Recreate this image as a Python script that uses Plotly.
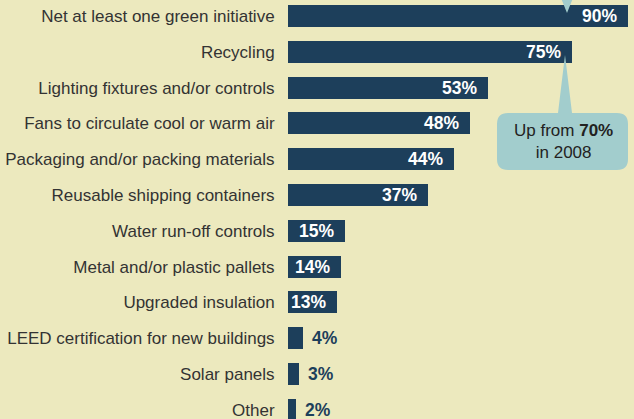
import plotly.graph_objects as go

categories = [
    "Net at least one green initiative",
    "Recycling",
    "Lighting fixtures and/or controls",
    "Fans to circulate cool or warm air",
    "Packaging and/or packing materials",
    "Reusable shipping containers",
    "Water run-off controls",
    "Metal and/or plastic pallets",
    "Upgraded insulation",
    "LEED certification for new buildings",
    "Solar panels",
    "Other",
]
values = [90, 75, 53, 48, 44, 37, 15, 14, 13, 4, 3, 2]
callout_prev_value = 70
callout_prev_year = 2008

BG = "#ece9be"
NAVY = "#1d3f5b"
TEAL = "#a2cdcd"
W, H = 634, 419
L = 288

fig = go.Figure()
fig.add_trace(go.Bar(
    x=values, y=categories, orientation="h",
    marker=dict(color=NAVY, line=dict(width=0)),
    width=0.61, hoverinfo="skip",
))

annotations = []
for c, v in zip(categories, values):
    inside = v >= 10
    annotations.append(dict(
        x=v, y=c, xref="x", yref="y",
        text=f"<b>{v}%</b>", showarrow=False,
        xanchor="right" if inside else "left",
        xshift=-9 if inside else 7,
        font=dict(family="Liberation Sans, Arial, sans-serif", size=17.5,
                  color="white" if inside else NAVY),
    ))

def px_x(p):
    return (p - L) / (W - L)

def px_y(p):
    return 1 - p / H

def P(x, y):
    return f"{px_x(x):.5f},{px_y(y):.5f}"

# callout box (rounded) with pointer to Recycling bar end
x0, x1, y0, y1, r = 497, 628, 113, 170, 11
bx0, bx1, tipx, tipy = 558, 572, 565, 55
path = (
    f"M {P(x0 + r, y0)} L {P(bx0, y0)} L {P(tipx, tipy)} L {P(bx1, y0)} "
    f"L {P(x1 - r, y0)} Q {P(x1, y0)} {P(x1, y0 + r)} "
    f"L {P(x1, y1 - r)} Q {P(x1, y1)} {P(x1 - r, y1)} "
    f"L {P(x0 + r, y1)} Q {P(x0, y1)} {P(x0, y1 - r)} "
    f"L {P(x0, y0 + r)} Q {P(x0, y0)} {P(x0 + r, y0)} Z"
)
shapes = [
    dict(type="path", xref="paper", yref="paper", path=path,
         fillcolor=TEAL, line=dict(width=0), layer="above"),
    dict(type="path", xref="paper", yref="paper",
         path=f"M {P(561, -2)} L {P(573, -2)} L {P(567, 13)} Z",
         fillcolor=TEAL, line=dict(width=0), layer="above"),
]
annotations.append(dict(
    x=px_x(563), y=px_y(142), xref="paper", yref="paper",
    text=f"Up from <b>{callout_prev_value}%</b><br>in {callout_prev_year}",
    showarrow=False, xanchor="center", yanchor="middle", align="center",
    font=dict(family="Liberation Sans, Arial, sans-serif", size=17, color="#222222"),
))

fig.update_layout(
    width=W, height=H,
    margin=dict(l=L, r=0, t=0, b=0),
    paper_bgcolor=BG, plot_bgcolor=BG,
    showlegend=False,
    xaxis=dict(range=[0, 91.5], visible=False, fixedrange=True),
    yaxis=dict(
        range=[11.257, -0.447], showgrid=False, zeroline=False, showline=False,
        automargin=False,
        ticks="outside", ticklen=9, tickcolor=BG,
        tickfont=dict(family="Liberation Sans, Arial, sans-serif", size=17, color="#333333"),
    ),
    annotations=annotations,
    shapes=shapes,
    bargap=0,
)

fig.write_html("out.html")
